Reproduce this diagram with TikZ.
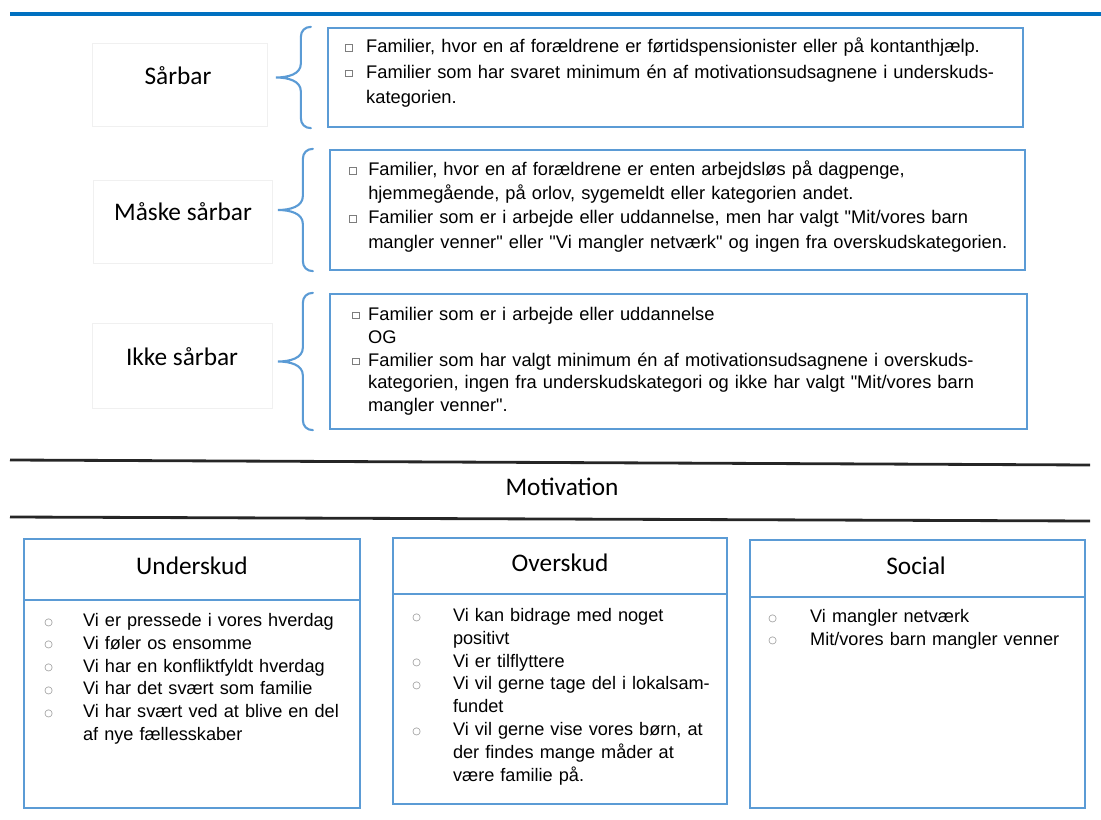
\documentclass[tikz,border=0pt]{standalone}
\usepackage{fontspec}
\setmainfont{Liberation Sans}
\newfontfamily\headfont{Carlito}
\newfontfamily\symfont{DejaVu Sans}
\usetikzlibrary{positioning,fit}
\definecolor{topblue}{RGB}{0,112,192}
\definecolor{boxblue}{RGB}{91,155,213}
\definecolor{lblgray}{RGB}{240,240,240}
\definecolor{bulgray}{RGB}{125,125,125}
\newlength{\bulw}
\newcommand{\sqmark}{\raisebox{1.3pt}{\color{bulgray}\fboxsep=0pt\fboxrule=0.5pt\fbox{\rule{0pt}{4.2pt}\hspace{4.2pt}}}}
\newcommand{\rimark}{\raisebox{0.8pt}{\symfont\fontsize{7}{7}\selectfont\color{bulgray}○}}
\newcommand{\sqitem}[1]{\par\noindent\hangindent=\bulw\hangafter=1\makebox[\bulw][l]{\sqmark}#1}
\newcommand{\riitem}[1]{\par\noindent\hangindent=\bulw\hangafter=1\makebox[\bulw][l]{\rimark}#1}
\newcommand{\qq}{\textquotedbl}

\begin{document}
\begin{tikzpicture}[x=0.025cm,y=-0.025cm,
  critbox/.style={draw=boxblue,line width=1.6pt,inner sep=0pt},
  lblbox/.style={draw=lblgray,line width=0.6pt,inner sep=0pt},
  lbltext/.style={inner sep=0pt,font=\headfont\fontsize{18}{21}\selectfont},
  crittext/.style={anchor=north west,inner sep=0pt,text width=17.5cm,align=left},
  curly/.style={draw=boxblue,line width=1.5pt,line cap=round},
  sepline/.style={line width=2pt,black!85},
  catbox/.style={draw=boxblue,line width=1.6pt,inner sep=0pt},
  cattext/.style={anchor=north west,inner sep=0pt,text width=8cm,align=left,
                  font=\fontsize{12.9}{16.3}\selectfont}]
  \useasboundingbox (0,0) rectangle (1101,820);
  \draw[topblue,line width=2.8pt] (10,14) -- (1101,14);

  % Saarbarhed
  \node[lblbox,fit={(92,43)(267,126)}] (slbl) {};
  \node[lbltext] (sname) at (178,76) {Sårbar};
  \node[critbox,fit={(328,28)(1023,127)}] (sbox) {};
  \node[crittext,font=\fontsize{13}{18.1}\selectfont] (stext) at (345,27) {\setlength{\bulw}{14.9pt}%
    \sqitem{Familier, hvor en af forældrene er førtidspensionister eller på kontanthjælp.}
    \sqitem{Familier som har svaret minimum én af motivationsudsagnene i underskuds-\newline kategorien.}\par};

  \node[lblbox,fit={(93,180)(272,263)}] (mlbl) {};
  \node[lbltext] (mname) at (183,212) {Måske sårbar};
  \node[critbox,fit={(330,150)(1025,270)}] (mbox) {};
  \node[crittext,font=\fontsize{13}{17.2}\selectfont] (mtext) at (349,151) {\setlength{\bulw}{13.5pt}%
    \sqitem{Familier, hvor en af forældrene er enten arbejdsløs på dagpenge,\newline hjemmegående, på orlov, sygemeldt eller kategorien andet.}
    \sqitem{Familier som er i arbejde eller uddannelse, men har valgt \qq Mit/vores barn\newline mangler venner\qq{} eller \qq Vi mangler netværk\qq{} og ingen fra overskudskategorien.}\par};

  \node[lblbox,fit={(92,323)(272,408)}] (ilbl) {};
  \node[lbltext] (iname) at (182,357) {Ikke sårbar};
  \node[critbox,fit={(330,294)(1027,429)}] (ibox) {};
  \node[crittext,font=\fontsize{13}{16.3}\selectfont] (itext) at (352,297) {\setlength{\bulw}{11.3pt}%
    \sqitem{Familier som er i arbejde eller uddannelse}
    \par\noindent\hspace*{\bulw}OG
    \sqitem{Familier som har valgt minimum én af motivationsudsagnene i overskuds-\newline kategorien, ingen fra underskudskategori og ikke har valgt \qq Mit/vores barn\newline mangler venner\qq.}\par};

  \foreach \b in {sbox,mbox,ibox}{
    \path ([xshift=-0.4cm]\b.north west) coordinate (bt)
          ([xshift=-0.4cm]\b.south west) coordinate (bb)
          ([xshift=-1.275cm]\b.west) coordinate (bm);
    \draw[curly] (bt) .. controls ([xshift=-0.15cm]bt) and ([xshift=-0.25cm,yshift=-0.1cm]bt) .. ([xshift=-0.25cm,yshift=-0.25cm]bt)
      -- ([xshift=0.625cm,yshift=0.35cm]bm)
      .. controls ([xshift=0.625cm,yshift=0.08cm]bm) and ([xshift=0.3cm]bm) .. (bm)
      .. controls ([xshift=0.3cm]bm) and ([xshift=0.625cm,yshift=-0.08cm]bm) .. ([xshift=0.625cm,yshift=-0.35cm]bm)
      -- ([xshift=-0.25cm,yshift=0.25cm]bb)
      .. controls ([xshift=-0.25cm,yshift=0.1cm]bb) and ([xshift=-0.15cm]bb) .. (bb);
  }

  % Motivation
  \draw[sepline] (10,460) -- (1090,465);
  \node[lbltext] (motiv) at (562,487) {Motivation};
  \draw[sepline] (10,517) -- (1090,521);

  \node[catbox,fit={(24,539)(360,600)}] (uhead) {};
  \node[catbox,fit={(24,600)(360,808)}] (ubody) {};
  \node[lbltext] (uname) at (192,566) {Underskud};
  \node[cattext] (utext) at (44,603) {\setlength{\bulw}{27.6pt}%
    \riitem{Vi er pressede i vores hverdag}
    \riitem{Vi føler os ensomme}
    \riitem{Vi har en konfliktfyldt hverdag}
    \riitem{Vi har det svært som familie}
    \riitem{Vi har svært ved at blive en del\newline af nye fællesskaber}\par};

  \node[catbox,fit={(393,538)(727,594)}] (ohead) {};
  \node[catbox,fit={(393,594)(727,804)}] (obody) {};
  \node[lbltext] (oname) at (560,563) {Overskud};
  \node[cattext] (otext) at (412,598) {\setlength{\bulw}{29pt}%
    \riitem{Vi kan bidrage med noget\newline positivt}
    \riitem{Vi er tilflyttere}
    \riitem{Vi vil gerne tage del i lokalsam-\newline fundet}
    \riitem{Vi vil gerne vise vores børn, at\newline der findes mange måder at\newline være familie på.}\par};

  \node[catbox,fit={(750,540)(1085,597)}] (chead) {};
  \node[catbox,fit={(750,597)(1085,808)}] (cbody) {};
  \node[lbltext] (cname) at (916,566) {Social};
  \node[cattext] (ctext) at (768,599) {\setlength{\bulw}{29.8pt}%
    \riitem{Vi mangler netværk}
    \riitem{Mit/vores barn mangler venner}\par};
\end{tikzpicture}
\end{document}
